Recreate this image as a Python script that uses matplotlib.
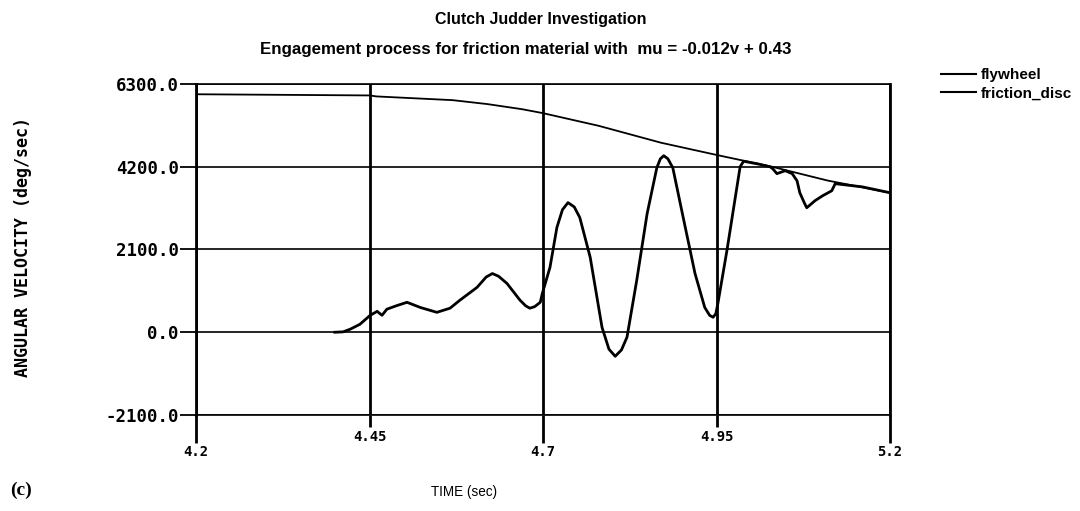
import matplotlib
matplotlib.use('Agg')
import matplotlib.pyplot as plt

# flywheel speed
flywheel_t = [4.20, 4.45, 4.46, 4.57, 4.62, 4.67, 4.70, 4.78, 4.87, 4.95, 5.03, 5.11, 5.20]
flywheel_v = [6040, 6010, 5985, 5890, 5790, 5660, 5560, 5240, 4810, 4500, 4200, 3850, 3540]

# friction disc speed
disc_t = [4.400, 4.412, 4.422, 4.436, 4.451, 4.461, 4.468, 4.475, 4.490, 4.504,
          4.523, 4.547, 4.566, 4.580, 4.605, 4.618, 4.627, 4.636, 4.648, 4.667,
          4.675, 4.681, 4.688, 4.696, 4.699, 4.710, 4.720, 4.728, 4.736, 4.745,
          4.753, 4.768, 4.785, 4.795, 4.804, 4.813, 4.821, 4.835, 4.850, 4.864,
          4.869, 4.874, 4.880, 4.887, 4.902, 4.919, 4.933, 4.940, 4.945, 4.949,
          4.952, 4.965, 4.984, 4.989, 5.010, 5.027, 5.031, 5.037, 5.049, 5.059,
          5.066, 5.070, 5.077, 5.080, 5.092, 5.103, 5.116, 5.121, 5.160, 5.200]
disc_v = [0, 10, 76, 200, 430, 530, 430, 585, 680, 760,
          630, 505, 610, 810, 1140, 1400, 1490, 1420, 1240, 810,
          670, 610, 650, 760, 985, 1645, 2660, 3110, 3290, 3180,
          2910, 1900, 125, -430, -610, -450, -125, 1315, 3010, 4175,
          4400, 4480, 4400, 4175, 2910, 1490, 630, 430, 380, 470,
          735, 2075, 4200, 4340, 4270, 4200, 4150, 4025, 4100, 4025,
          3845, 3540, 3265, 3160, 3340, 3465, 3590, 3770, 3690, 3540]

y_ticks = [-2100, 0, 2100, 4200, 6300]
y_labels = ['-2100.0', '0.0', '2100.0', '4200.0', '6300.0']
x_major = [4.2, 4.7, 5.2]
x_major_labels = ['4.2', '4.7', '5.2']
x_minor = [4.45, 4.95]
x_minor_labels = ['4.45', '4.95']

mono = ['DejaVu Sans Mono']
sans = ['Liberation Sans', 'DejaVu Sans']

fig = plt.figure(figsize=(10.8, 5.11), dpi=100)
ax = fig.add_axes([0.1815, 0.1879, 0.6426, 0.6477])

ax.plot(flywheel_t, flywheel_v, color='black', lw=1.3, label='flywheel')
ax.plot(disc_t, disc_v, color='black', lw=2.0, label='friction_disc')

ax.set_xlim(4.2, 5.2)
ax.set_ylim(-2100, 6300)

ax.set_yticks(y_ticks)
ax.set_yticklabels(y_labels, fontfamily=mono, fontweight='bold', fontsize=12.5)
ax.set_xticks(x_major)
ax.set_xticklabels(x_major_labels, fontfamily=mono, fontweight='bold', fontsize=10)
ax.set_xticks(x_minor, minor=True)
ax.set_xticklabels(x_minor_labels, minor=True, fontfamily=mono, fontweight='bold', fontsize=10)

ax.tick_params(axis='y', direction='out', length=11.5, width=1.3, pad=1.0)
ax.tick_params(axis='x', which='major', direction='out', length=20.5, width=2.0, pad=1.0)
ax.tick_params(axis='x', which='minor', direction='out', length=8.5, width=2.0, pad=2.5)

# grid
ax.grid(axis='y', color='black', lw=1.2)
ax.grid(axis='x', which='both', color='black', lw=2.0)
for s in ax.spines.values():
    s.set_color('black')
ax.spines['left'].set_linewidth(2.0)
ax.spines['right'].set_linewidth(2.0)
ax.spines['top'].set_linewidth(1.2)
ax.spines['bottom'].set_linewidth(1.2)

fig.text(0.021, 0.517, 'ANGULAR VELOCITY (deg/sec)', rotation=90, ha='center', va='center',
         fontfamily=mono, fontweight='bold', fontsize=12)

fig.text(0.501, 0.962, 'Clutch Judder Investigation', ha='center', va='center',
         fontfamily=sans, fontweight='bold', fontsize=11.5)
fig.text(0.487, 0.903, 'Engagement process for friction material with  mu = -0.012v + 0.43',
         ha='center', va='center', fontfamily=sans, fontweight='bold', fontsize=12.2)
fig.text(0.43, 0.037, 'TIME (sec)', ha='center', va='center', fontfamily=sans, fontsize=9.75)
fig.text(0.009, 0.041, '(c)', ha='left', va='center', fontfamily=['Liberation Serif', 'DejaVu Serif'],
         fontweight='bold', fontsize=14)

fig.legend(loc='upper left', bbox_to_anchor=(0.8645, 0.882), frameon=False,
           handlelength=2.3, handletextpad=0.25, labelspacing=0.32, borderpad=0,
           prop={'family': sans, 'weight': 'bold', 'size': 11})
leg = fig.legends[0]
for line in leg.get_lines():
    line.set_linewidth(1.5)

fig.savefig('out.png', dpi=100)
